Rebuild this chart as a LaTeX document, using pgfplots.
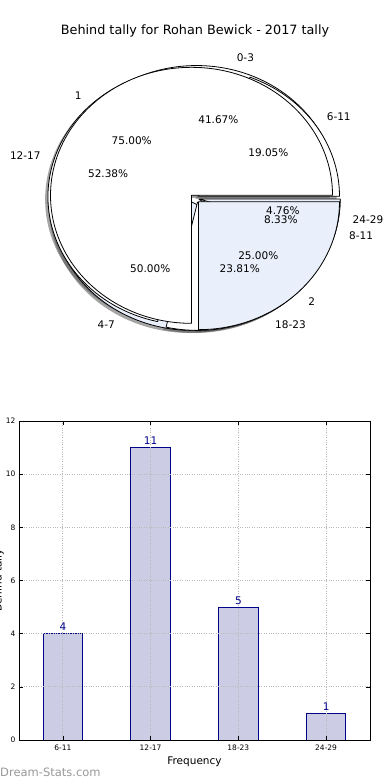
\documentclass[border=0pt]{standalone}
\usepackage{pgfplots}
\pgfplotsset{compat=1.18}
\usepackage{fontspec}
\setmainfont{DejaVu Sans}
\definecolor{pieblue}{RGB}{233,239,251}
\definecolor{barfill}{RGB}{204,204,229}
\definecolor{baredge}{RGB}{0,0,139}
\definecolor{gridgray}{RGB}{185,185,185}
\newcommand{\fs}[1]{\fontsize{#1}{#1}\selectfont}
\pgfkeys{/pgf/number format/assume math mode=true}

% pie data: value / label / explode / colour
\def\pieone{5/0-3/0.04/white,6/4-7/0.035/pieblue,1/8-11/0.03/white}
\def\pietwo{4/6-11/0.03/white,11/12-17/0.045/white,5/18-23/0.035/white,1/24-29/0.03/pieblue}
\def\piethree{9/1/0.035/white,3/2/0.035/pieblue}

\newcommand{\pieloop}[2]{%
  \gdef\pietotal{0}%
  \foreach \v/\lab/\ex/\col in #1 {\pgfmathparse{\pietotal+\v}\xdef\pietotal{\pgfmathresult}}%
  \gdef\piecum{0}%
  \foreach \v/\lab/\ex/\col in #1 {%
    \pgfmathsetmacro\angA{\piecum}%
    \pgfmathsetmacro\angB{\piecum+360*\v/\pietotal}%
    \xdef\piecum{\angB}%
    \pgfmathsetmacro\angM{(\angA+\angB)/2}%
    \pgfmathsetmacro\offx{\ex*cos(\angM)}%
    \pgfmathsetmacro\offy{\ex*sin(\angM)}%
    \pgfmathsetmacro\pct{100*\v/\pietotal}%
    #2%
  }}
\newcommand{\wedgepath}[2]{(axis cs:{\offx+#1},{\offy+#2}) -- ++(\angA:141pt and 128pt) arc[start angle=\angA, end angle=\angB, x radius=141pt, y radius=128pt] -- cycle}
\newcommand{\pieshadow}{\fill[black!70,opacity=0.5] \wedgepath{-0.02}{-0.02};}
\newcommand{\piewedge}{\filldraw[fill=\col, draw=black, line width=0.8pt, line join=round] \wedgepath{0}{0};}
\newcommand{\pietext}{%
  \node[font=\fs{10.5}, inner sep=0pt] at (axis cs:{\offx+0.6*cos(\angM)},{\offy+0.6*sin(\angM)}) {\pgfmathprintnumber[fixed,fixed zerofill,precision=2]{\pct}\%};%
  \pgfmathparse{cos(\angM)>0}%
  \ifdim\pgfmathresult pt>0.5pt \def\anc{west}\else\def\anc{east}\fi
  \node[font=\fs{10.5}, anchor=\anc, inner sep=0pt] at (axis cs:{\offx+1.1*cos(\angM)},{\offy+1.1*sin(\angM)}) {\lab};}

\begin{document}
\begin{tikzpicture}
\useasboundingbox (0,0) rectangle (390pt,780pt);
\node[font=\fs{12.8}] at (195pt,749pt) {Behind tally for Rohan Bewick - 2017 tally};

\begin{axis}[at={(195pt,581.5pt)}, anchor=center, hide axis, x=141pt, y=128pt,
  xmin=-1.4, xmax=1.4, ymin=-1.4, ymax=1.4, clip=false]
\pgfplotsextra{%
  \pieloop{\pieone}{\pieshadow}\pieloop{\pietwo}{\pieshadow}\pieloop{\piethree}{\pieshadow}%
  \pieloop{\pieone}{\piewedge}\pieloop{\pietwo}{\piewedge}\pieloop{\piethree}{\piewedge}%
  \pieloop{\pieone}{\pietext}\pieloop{\pietwo}{\pietext}\pieloop{\piethree}{\pietext}%
}
\end{axis}

\begin{axis}[at={(19pt,40pt)}, anchor=south west, scale only axis,
  width=351pt, height=319pt,
  xmin=-0.5, xmax=3.5, ymin=0, ymax=12,
  xtick={0,1,2,3}, xticklabels={6-11,12-17,18-23,24-29},
  ytick={0,2,...,12},
  tick align=inside, major tick length=4pt,
  tick style={black, line width=0.5pt},
  grid=major, grid style={dotted, gridgray, line width=0.9pt},
  axis on top,
  axis line style={line width=0.9pt},
  tick label style={font=\fs{7.5}},
  xticklabel style={yshift=-1pt},
  xlabel={Frequency}, xlabel style={font=\fs{10.5}, yshift=0pt},
  ylabel={Behind tally}, ylabel style={font=\fs{10.5}, at={(axis description cs:-0.058,0.5)}, anchor=center},
  ]
\addplot[ybar, bar width=0.45, fill=barfill, draw=baredge, line width=0.8pt,
  nodes near coords, nodes near coords style={font=\fs{10.5}, text=baredge, yshift=-1pt}]
  coordinates {(0,4) (1,11) (2,5) (3,1)};
\end{axis}

\node[anchor=base west, inner sep=0pt, font=\fs{11.5}, text=black!40] at (0pt,3pt) {Dream-Stats.com};
\end{tikzpicture}
\end{document}
